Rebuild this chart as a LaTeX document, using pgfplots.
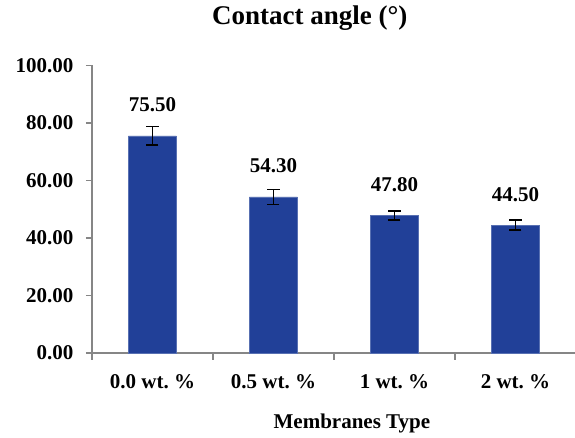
\documentclass[border=0pt]{standalone}
\usepackage{pgfplots}
\pgfplotsset{compat=1.18}
\usepackage{fontspec}
\setmainfont{Liberation Serif}
\definecolor{barblue}{RGB}{33,64,152}
\definecolor{axgray}{RGB}{134,134,134}
\newcommand{\lbl}{\fontsize{21bp}{25bp}\selectfont\bfseries}
\begin{document}
\begin{tikzpicture}
\path[use as bounding box] (-92bp,-85bp) rectangle (483bp,353bp);
\begin{axis}[
    scale only axis,
    width=484bp, height=287.5bp,
    xmin=-0.5, xmax=3.5,
    ymin=0, ymax=100,
    axis x line=bottom, axis y line=left,
    axis line style={draw=axgray, line width=1.2bp, -},
    tick align=outside,
    tick style={draw=axgray, line width=1.2bp},
    major tick length=6bp,
    minor tick length=6.5bp,
    xtick={0,1,2,3},
    xticklabels={0.0 wt.\ \%, 0.5 wt.\ \%, 1 wt.\ \%, 2 wt.\ \%},
    major x tick style={draw=none},
    minor xtick={-0.5,0.5,1.5,2.5},
    ytick={0,20,...,100},
    /pgf/number format/assume math mode=true,
    yticklabel={\pgfmathprintnumber[fixed,fixed zerofill,precision=2]{\tick}},
    yticklabel style={font=\lbl, xshift=-9bp},
    xticklabel style={font=\lbl, anchor=base, yshift=-29bp},
    xlabel={Membranes Type},
    xlabel style={font=\lbl, at={(axis description cs:0.537,-0.261)}, anchor=base},
    title={Contact angle (°)},
    title style={font=\fontsize{27bp}{30bp}\selectfont\bfseries, at={(axis description cs:0.450,1.1235)}, anchor=base},
    clip=false,
]
\addplot[ybar, bar width=48bp, fill=barblue, draw=barblue!75!white,
    nodes near coords={\pgfmathprintnumber[fixed,fixed zerofill,precision=2]{\pgfplotspointmeta}},
    every node near coord/.append style={font=\lbl, anchor=base, yshift=24bp, black},
    error bars/.cd, y dir=both, y explicit,
    error bar style={black, line width=1.5bp},
    error mark options={black, rotate=90, mark size=6bp, line width=1.5bp}]
table[x=x, y=y, y error=e] {
x y e
0 75.5 3.2
1 54.3 2.6
2 47.8 1.6
3 44.5 1.8
};
\end{axis}
\end{tikzpicture}
\end{document}
